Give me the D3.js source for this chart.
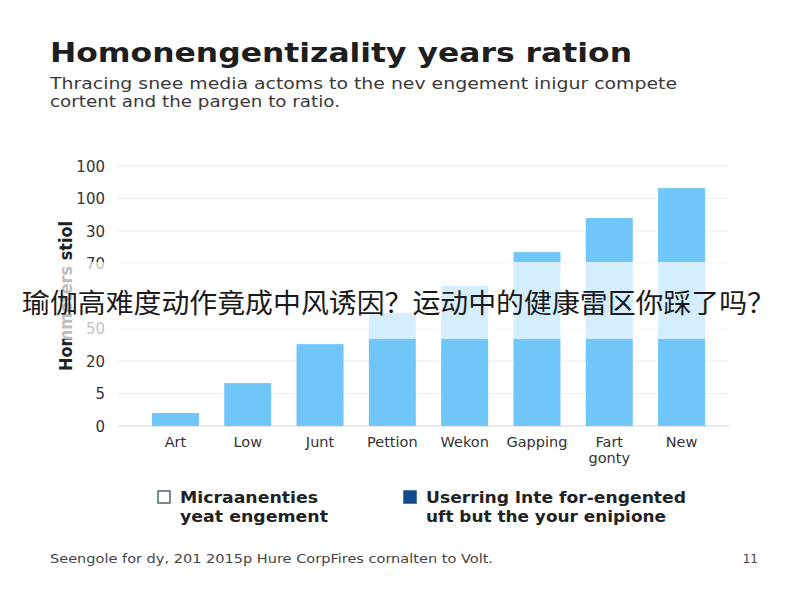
<!DOCTYPE html>
<html><head><meta charset="utf-8">
<script src="https://cdn.jsdelivr.net/npm/d3@7"></script>
<style>body{margin:0;background:#fff}svg{display:block}</style>
</head><body>
<svg id="c" width="800" height="600"></svg>
<script>
const categories = ["Art","Low","Junt","Pettion","Wekon","Gapping","Fart\ngonty","New"];
const values = [4, 13.2, 25.2, 34.8, 43.1, 53.5, 64, 73.2];
const tickValues = [0,10,20,30,40,50,60,70,80];
const tickLabels = ["0","5","20","50","","70","30","100","100"];
const titleText = "Homonengentizality years ration";
const subtitleLines = ["Thracing snee media actoms to the nev engement inigur compete","cortent and the pargen to ratio."];
const yTitle = "Hommeters stiol";
const legendItems = [
  {lines:["Micraanenties","yeat engement"], filled:false},
  {lines:["Userring lnte for-engented","uft but the your enipione"], filled:true}
];
const footerText = "Seengole for dy, 201 2015p Hure CorpFires cornalten to Volt.";
const pageNum = "11";
const overlayText = "瑜伽高难度动作竟成中风诱因？运动中的健康雷区你踩了吗？";

const svg = d3.select("#c");
const font = "'DejaVu Sans', Verdana, sans-serif";
const fit = (sel, len) => sel.attr("textLength", len).attr("lengthAdjust","spacingAndGlyphs");

fit(svg.append("text").attr("x",50).attr("y",62).attr("font-family",font)
  .attr("font-weight","bold").attr("font-size",27).attr("fill","#1e1e1e").text(titleText), 582);
const subLens = [627, 290];
subtitleLines.forEach((l,i)=>fit(svg.append("text").attr("x",50).attr("y",89+i*18)
  .attr("font-family",font).attr("font-size",15.5).attr("fill","#3a3a3a").text(l), subLens[i]));

const y = d3.scaleLinear().domain([0,80]).range([426,166]);
const x = d3.scaleBand().domain(categories).range([123,734]).paddingInner(0.35).paddingOuter(0.4);

// grid
svg.append("g").selectAll("line").data(tickValues).join("line")
  .attr("x1",118).attr("x2",729).attr("y1",d=>y(d)).attr("y2",d=>y(d))
  .attr("stroke",d=>d===0?"#d8d8d8":"#ececec").attr("stroke-width",1.2);

// y axis labels
const yAxis = d3.axisLeft(y).tickValues(tickValues).tickSize(0).tickPadding(0)
  .tickFormat((d,i)=>tickLabels[i]);
const ga = svg.append("g").attr("transform","translate(105,0)").call(yAxis);
ga.select(".domain").remove();
ga.selectAll("text").attr("font-family",font).attr("font-size",15).attr("fill","#333").attr("dy","0.35em");

// y title
fit(svg.append("text").attr("transform","translate(72,296) rotate(-90)").attr("text-anchor","middle")
  .attr("font-family",font).attr("font-weight","bold").attr("font-size",17).attr("fill","#222").text(yTitle), 150);

// bars
svg.append("g").selectAll("rect").data(values).join("rect")
  .attr("x",(d,i)=>x(categories[i])).attr("width",x.bandwidth())
  .attr("y",d=>y(d)).attr("height",d=>y(0)-y(d)).attr("fill","#70c5f9");

// x labels
const gx = svg.append("g");
categories.forEach(c=>{
  const t = gx.append("text").attr("x",x(c)+x.bandwidth()/2).attr("y",447)
    .attr("text-anchor","middle").attr("font-family",font).attr("font-size",14.5).attr("fill","#333");
  c.split("\n").forEach((p,j)=>t.append("tspan").attr("x",x(c)+x.bandwidth()/2).attr("dy",j?16:0).text(p));
});

// legend
const lx = [158,404];
const legLens = [[138,148],[260,240]];
legendItems.forEach((it,i)=>{
  const g = svg.append("g");
  g.append("rect").attr("x",lx[i]).attr("y",491).attr("width",12).attr("height",12)
    .attr("fill",it.filled?"#14498c":"#fff").attr("stroke",it.filled?"#14498c":"#4a6a70").attr("stroke-width",1.5);
  it.lines.forEach((l,j)=>fit(g.append("text").attr("x",lx[i]+22).attr("y",503+j*19)
    .attr("font-family",font).attr("font-weight","bold").attr("font-size",16).attr("fill","#222").text(l), legLens[i][j]));
});

// footer
fit(svg.append("text").attr("x",50).attr("y",563).attr("font-family",font).attr("font-size",12)
  .attr("fill","#444").text(footerText), 443);
svg.append("text").attr("x",758).attr("y",563).attr("text-anchor","end").attr("font-family",font).attr("font-size",12)
  .attr("fill","#444").text(pageNum);

// overlay band + text
svg.append("rect").attr("x",0).attr("y",262).attr("width",800).attr("height",77).attr("fill","#fff").attr("opacity",0.7);
fit(svg.append("text").attr("x",22).attr("y",313)
  .attr("font-family","'Noto Sans CJK SC', sans-serif").attr("font-size",27).attr("fill","#1a1a1a").text(overlayText), 753);
</script>
</body></html>
